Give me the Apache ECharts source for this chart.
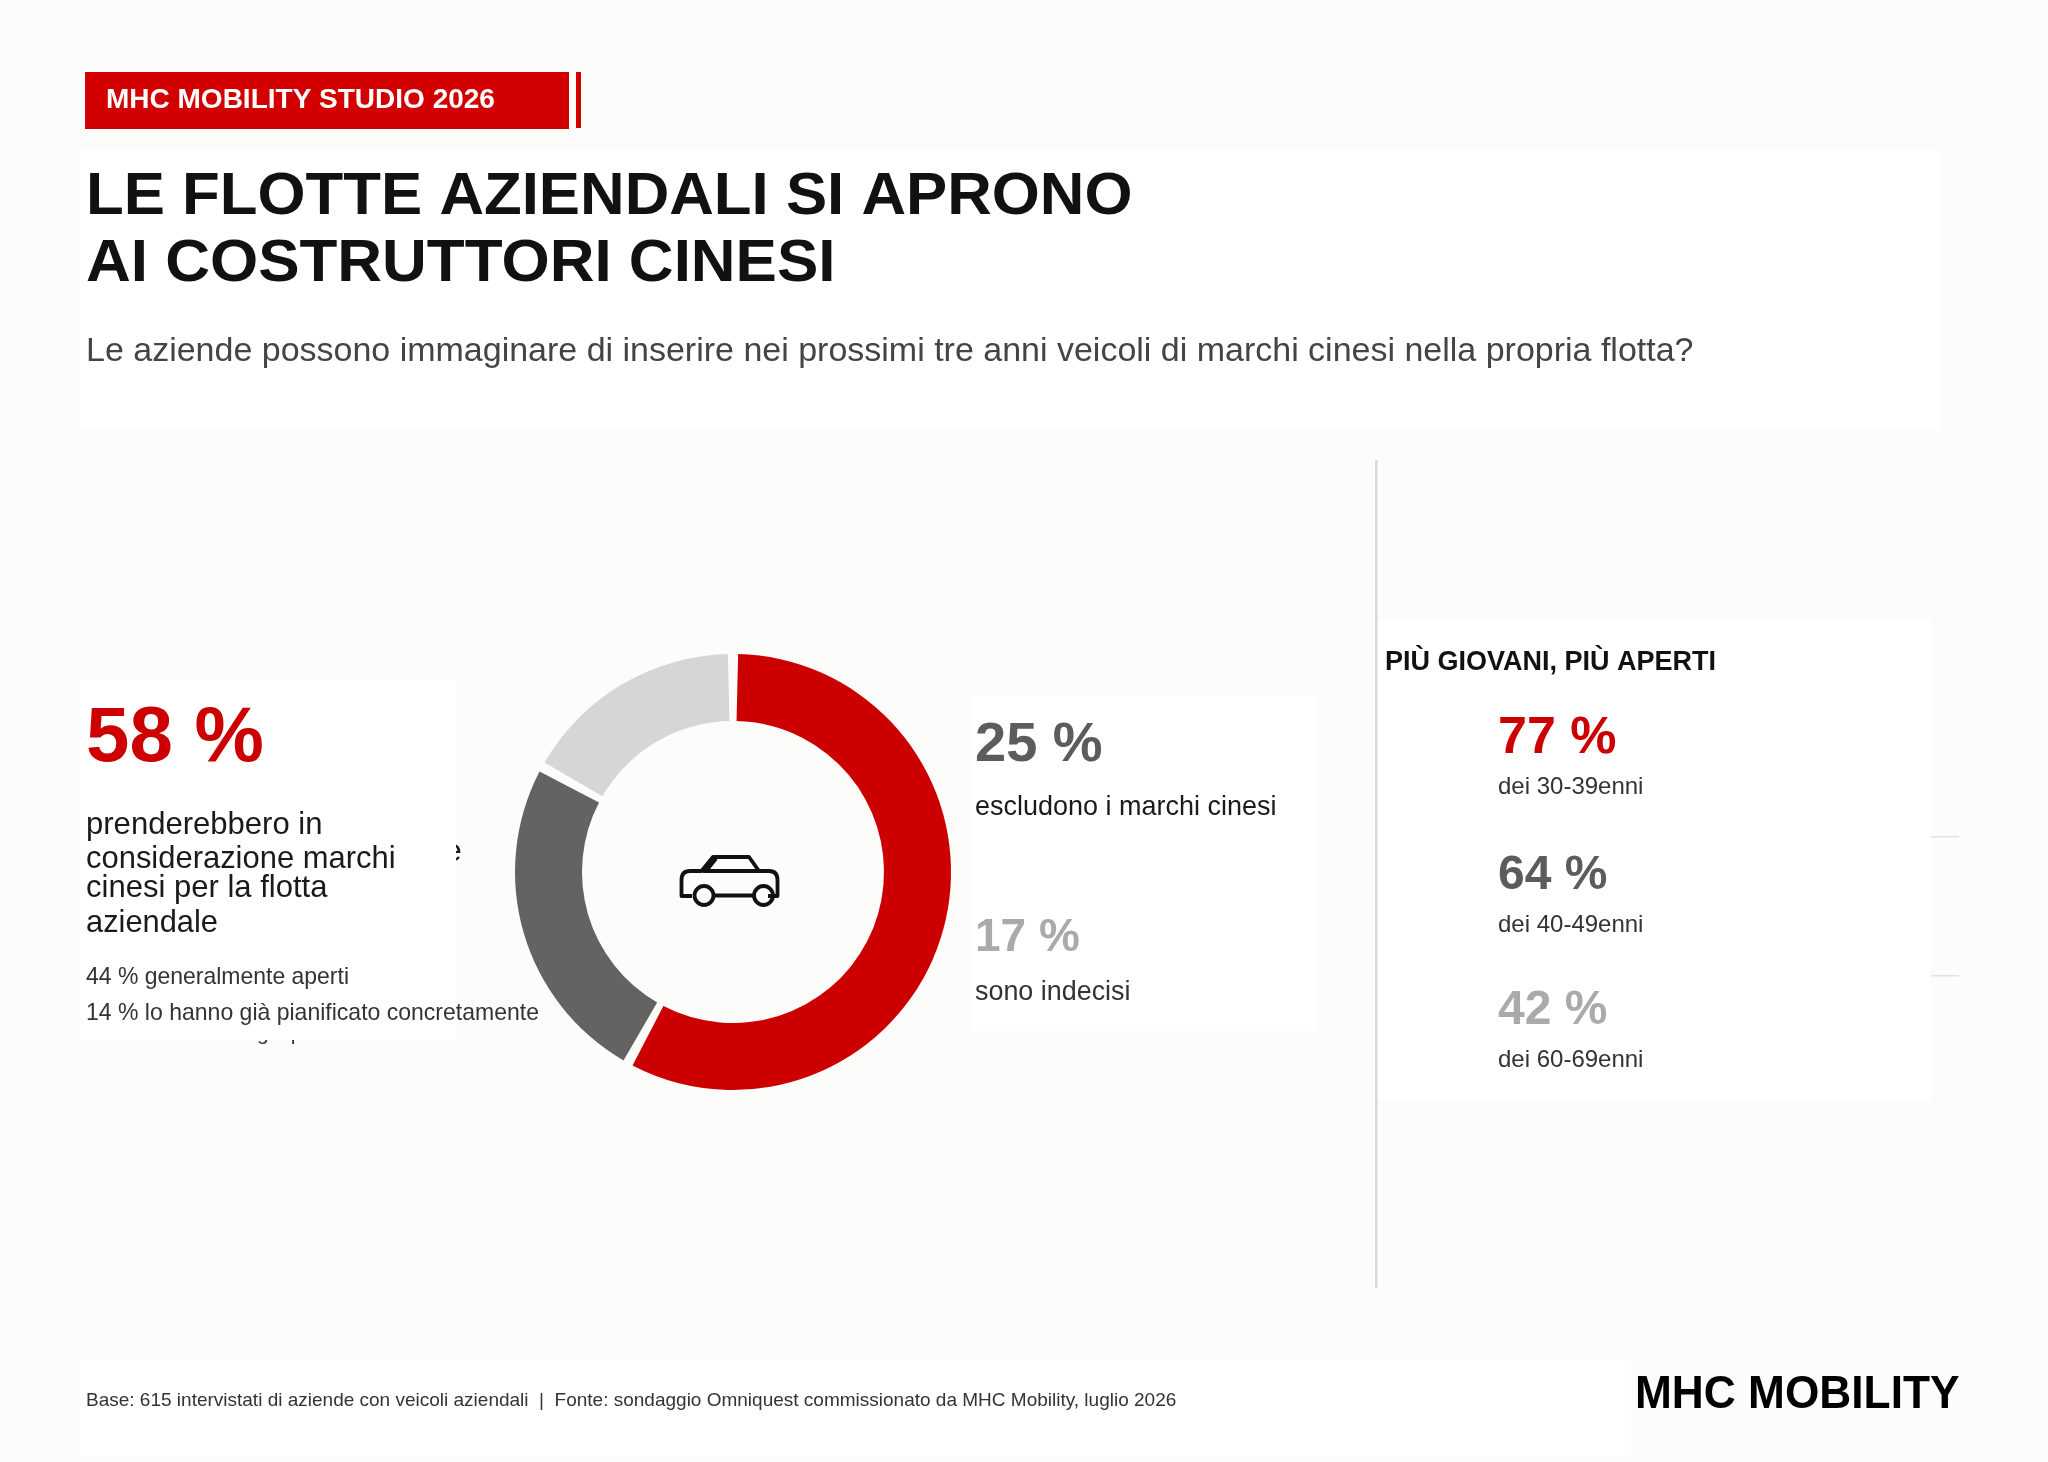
<!DOCTYPE html>
<html lang="it">
<head>
<meta charset="utf-8">
<title>MHC Mobility</title>
<script src="https://cdn.jsdelivr.net/npm/echarts@6/dist/echarts.min.js"></script>
<style>html,body{margin:0;padding:0;background:#FCFCFA}#c{width:2048px;height:1462px}</style>
</head>
<body>
<div id="c"></div>
<script>
const shareLabels = ['Aperti ai marchi cinesi', 'Escludono i marchi cinesi', 'Indecisi'];
const shareValues = [58, 25, 17];
const shareColors = ['#CC0000', '#636362', '#D6D6D5'];
const badge = 'MHC MOBILITY STUDIO 2026';
const titleLines = ['LE FLOTTE AZIENDALI SI APRONO', 'AI COSTRUTTORI CINESI'];
const subtitle = 'Le aziende possono immaginare di inserire nei prossimi tre anni veicoli di marchi cinesi nella propria flotta?';
const mainLines = ['prenderebbero in', 'considerazione marchi', 'cinesi per la flotta', 'aziendale'];
const detailLines = ['44 % generalmente aperti', '14 % lo hanno già pianificato concretamente'];
const ageHeading = 'PIÙ GIOVANI, PIÙ APERTI';
const ageValues = [77, 64, 42];
const ageLabels = ['dei 30-39enni', 'dei 40-49enni', 'dei 60-69enni'];
const sourceNote = 'Base: 615 intervistati di aziende con veicoli aziendali  |  Fonte: sondaggio Omniquest commissionato da MHC Mobility, luglio 2026';
const logo = 'MHC MOBILITY';

const FONT = '"Liberation Sans", Arial, sans-serif';
const BG = '#FCFCFA';
const INK = '#111111';
const pct = v => v + ' %';
const meter = document.createElement('canvas').getContext('2d');

function txt(text, x, baseline, size, color, bold, opts) {
  opts = opts || {};
  const font = (bold ? 'bold ' : '') + size + 'px ' + FONT;
  let sx = 1;
  if (opts.width) { meter.font = font; sx = (opts.width + 1.5) / meter.measureText(text).width; }
  return {
    type: 'text', z: opts.z || 10, silent: true,
    x, y: baseline - size * 0.3115 + 0.8, scaleX: sx,
    style: { text, x: 0, y: 0, font, fill: color, align: 'left', verticalAlign: 'middle' }
  };
}
function box(x, y, w, h, fill, z) {
  return { type: 'rect', z: z || 5, silent: true, shape: { x, y, width: w, height: h }, style: { fill } };
}
const carStyle = { fill: 'none', stroke: INK, lineWidth: 3.8, lineJoin: 'round', lineCap: 'butt' };
function carLine(points) {
  return { type: 'polyline', z: 12, silent: true, shape: { points }, style: carStyle };
}
function carCurve(x1, y1, cx, cy, x2, y2) {
  return { type: 'bezierCurve', z: 12, silent: true, shape: { x1, y1, x2, y2, cpx1: cx, cpy1: cy }, style: carStyle };
}
function carWheel(cx, cy) {
  return { type: 'circle', z: 12, silent: true, shape: { cx, cy, r: 9.5 }, style: carStyle };
}

const graphics = [
  // remnants showing from behind the left panel
  txt('e', 444, 861, 32, '#1A1A1A', false, { z: 3 }),
  txt('già p', 257, 1039.5, 21, '#333333', false, { z: 3 }),
  // panels
  box(80, 150, 1861, 280, '#FFFFFF'),
  box(80, 680, 376, 360, '#FFFFFF'),
  box(972, 695, 344, 336, '#FFFFFF'),
  box(1379, 619, 552, 482, '#FFFFFF'),
  box(80, 1360, 1551, 96, '#FFFFFF'),
  // rules
  box(1375, 460, 2.5, 828, '#D9D9D7', 6),
  box(1931, 836, 28, 1.5, '#E2E2E0', 4),
  box(1931, 975, 28, 1.5, '#E2E2E0', 4),
  // badge
  box(85, 72, 484, 57, '#D20000', 6),
  box(576, 72, 5, 56, '#D20000', 6),
  txt(badge, 106, 108, 28, '#FFFFFF', true),
  // title
  txt(titleLines[0], 86, 215, 60, INK, true, { width: 1045 }),
  txt(titleLines[1], 86, 282, 60, INK, true, { width: 748 }),
  txt(subtitle, 86, 361, 34, '#444444', false, { width: 1606 }),
  // left block
  txt(pct(shareValues[0]), 86, 763, 78, '#CC0000', true),
  txt(mainLines[0], 86, 834, 32, '#1A1A1A', false, { width: 235 }),
  txt(mainLines[1], 86, 868.5, 32, '#1A1A1A', false, { width: 308 }),
  txt(mainLines[2], 86, 897.5, 32, '#1A1A1A', false, { width: 240 }),
  txt(mainLines[3], 86, 932.5, 32, '#1A1A1A', false, { width: 130.5 }),
  txt(detailLines[0], 86, 984, 24, '#333333', false, { width: 261.5 }),
  txt(detailLines[1], 86, 1020, 24, '#333333', false, { width: 451.5 }),
  // mid block
  txt(pct(shareValues[1]), 975, 762, 56, '#5C5C5C', true),
  txt('escludono i marchi cinesi', 975, 815, 28, '#1A1A1A', false, { width: 300 }),
  txt(pct(shareValues[2]), 975, 952, 46, '#AAAAAA', true),
  txt('sono indecisi', 975, 1000.5, 28, '#333333', false, { width: 154 }),
  // age block
  txt(ageHeading, 1385, 670, 27, INK, true),
  txt(pct(ageValues[0]), 1498, 754, 52, '#CC0000', true),
  txt(ageLabels[0], 1498, 794, 24, '#333333', false),
  txt(pct(ageValues[1]), 1498, 890, 48, '#5C5C5C', true),
  txt(ageLabels[1], 1498, 932, 24, '#333333', false),
  txt(pct(ageValues[2]), 1498, 1025, 48, '#AAAAAA', true),
  txt(ageLabels[2], 1498, 1067, 24, '#333333', false),
  // footer
  txt(sourceNote, 86, 1406, 19, '#333333', false),
  txt(logo, 1635, 1409, 46, '#000000', true, { width: 323 }),
  // car icon
  carLine([[692, 896], [681.5, 896], [681.5, 880]]),
  carCurve(681.5, 880, 681.5, 871, 690, 871),
  carLine([[690, 871], [701.5, 871], [713, 857], [749, 857], [759, 871], [769, 871]]),
  carCurve(769, 871, 777.5, 871, 777.5, 880),
  carLine([[777.5, 880], [777.5, 896], [768, 896]]),
  carLine([[703, 871], [760, 871]]),
  carLine([[706, 871], [716, 858.5]]),
  carLine([[713.5, 895.5], [754, 895.5]]),
  carWheel(704, 895.5),
  carWheel(763.5, 895.5)
];

const chart = echarts.init(document.getElementById('c'), null, { renderer: 'canvas', width: 2048, height: 1462 });
chart.setOption({
  backgroundColor: BG,
  animation: false,
  graphic: { elements: graphics },
  series: [{
    type: 'pie',
    silent: true,
    z: 8,
    center: [733, 872],
    radius: [151, 218],
    startAngle: 90,
    clockwise: true,
    padAngle: 2.7,
    label: { show: false },
    labelLine: { show: false },
    data: shareLabels.map((name, i) => ({ name, value: shareValues[i], itemStyle: { color: shareColors[i] } }))
  }]
});
</script>
</body>
</html>
